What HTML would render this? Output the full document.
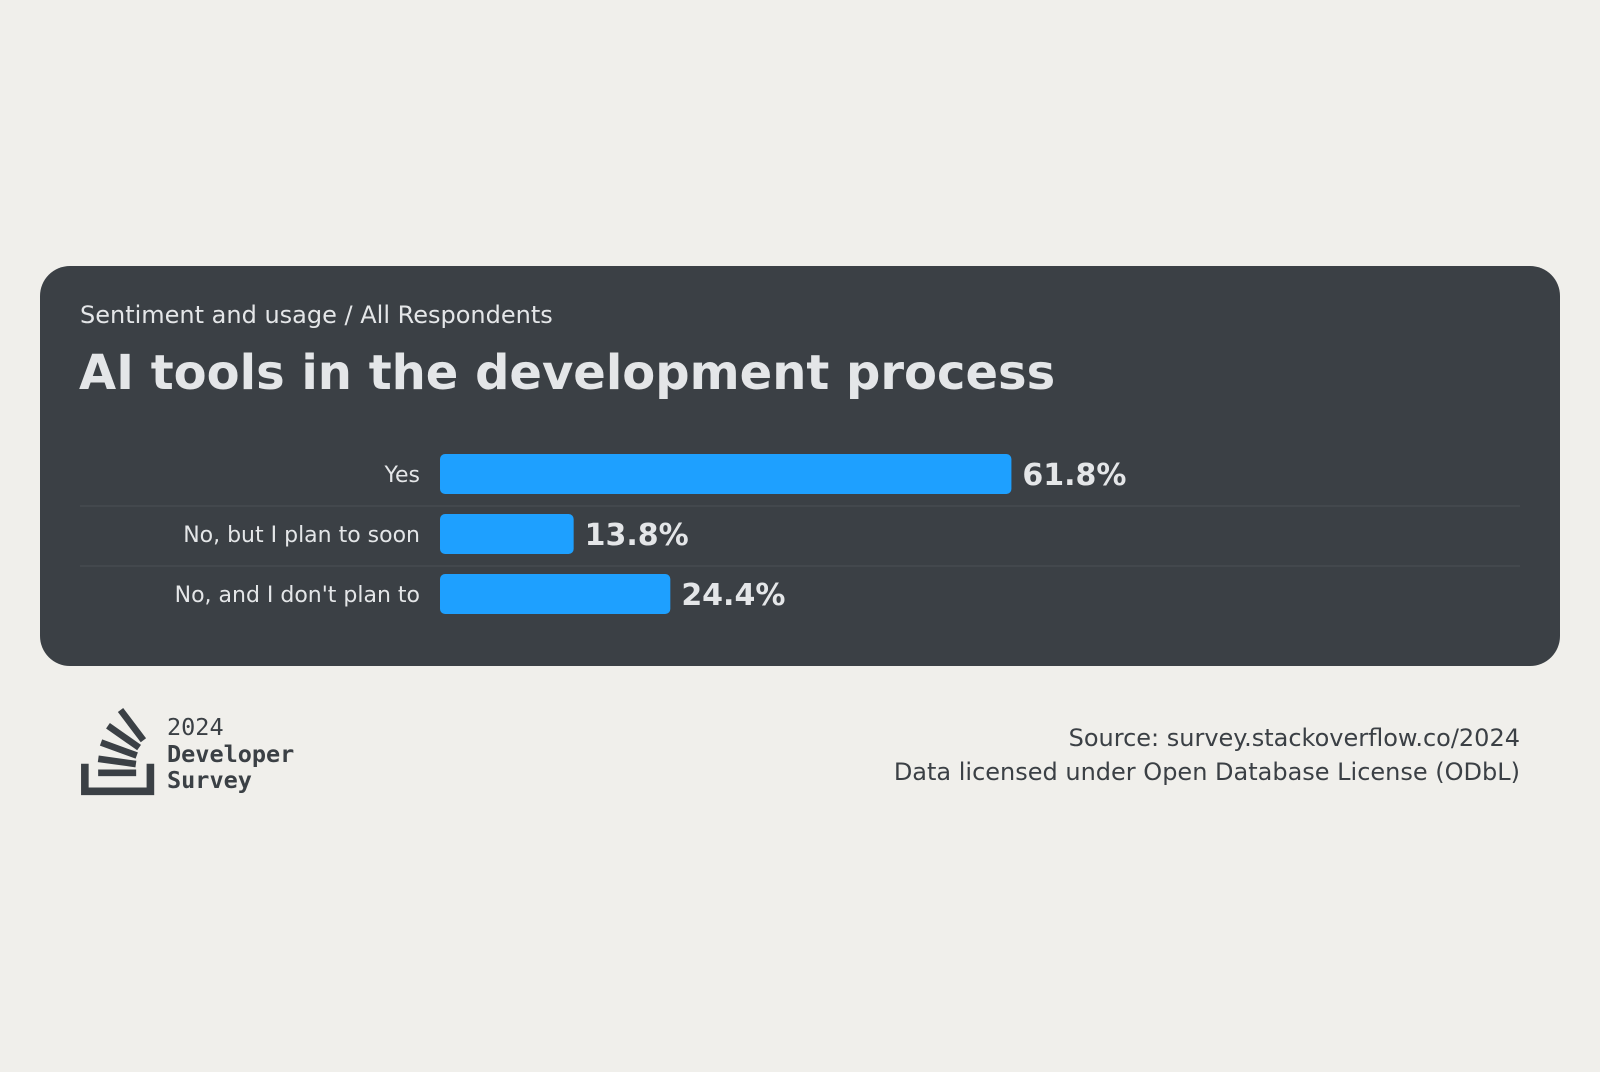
<!DOCTYPE html>
<html><head><meta charset="utf-8"><style>
body{margin:0;width:1600px;height:1072px;background:#f0efeb;font-family:"DejaVu Sans","Liberation Sans",sans-serif;overflow:hidden;position:relative}
.card{position:absolute;left:40px;top:266px;width:1520px;height:400px;background:#3b4045;border-radius:30px}
.sub{position:absolute;left:80px;top:301px;font-size:24px;color:#e4e6e8}
.title{position:absolute;left:79px;top:345px;font-size:48px;font-weight:bold;color:#e4e6e8}
.src{position:absolute;right:80px;top:721px;text-align:right;font-size:24px;color:#3b4045;line-height:34px}
.logo{position:absolute;left:80px;top:703px}
.mono{position:absolute;left:167px;font-family:"DejaVu Sans Mono","Liberation Mono",monospace;font-size:23.5px;color:#3b4045}
</style></head><body>
<div class="card"></div>
<div class="sub">Sentiment and usage / All Respondents</div>
<div class="title">AI tools in the development process</div>
<svg id="chart" width="1600" height="1072" style="position:absolute;left:0;top:0"></svg>
<svg class="logo" width="80" height="95" viewBox="0 0 80 100">
<path d="M3 64 V93 H72 V64" fill="none" stroke="#3b4045" stroke-width="8"/>
<rect x="17" y="70" width="40" height="7" fill="#3b4045"/>
<rect x="17" y="58" width="40" height="7" fill="#3b4045" transform="rotate(8 37 61)"/>
<rect x="19" y="45" width="40" height="7" fill="#3b4045" transform="rotate(20 39 48)"/>
<rect x="24" y="32" width="40" height="7" fill="#3b4045" transform="rotate(35 44 35)"/>
<rect x="33" y="20" width="40" height="7" fill="#3b4045" transform="rotate(53 53 23)"/>
</svg>
<div class="mono" style="top:713px">2024</div>
<div class="mono" style="top:740px;font-weight:bold">Developer</div>
<div class="mono" style="top:766px;font-weight:bold">Survey</div>
<div class="src">Source: survey.stackoverflow.co/2024<br>Data licensed under Open Database License (ODbL)</div>
<script>
const categories = ["Yes", "No, but I plan to soon", "No, and I don't plan to"];
const values = [61.8, 13.8, 24.4];
const valueLabels = ["61.8%", "13.8%", "24.4%"];
const NS = "http://www.w3.org/2000/svg";
const svg = document.getElementById("chart");
const x0 = 440, pxPer = 9.12, minW = 7.8, rowTop = 454, rowStep = 60, barH = 40;
const xScale = v => minW + v * pxPer;
const yScale = i => rowTop + i * rowStep;
function mk(tag, attrs) { const e = document.createElementNS(NS, tag); for (const k in attrs) e.setAttribute(k, attrs[k]); svg.appendChild(e); return e; }
categories.forEach((c, i) => {
  const y = yScale(i);
  if (i > 0) {
    const ln = mk("line", {x1: 80, x2: 1520, y1: y - 8, y2: y - 8, stroke: "#464b50", "stroke-width": 1.5});
    
    
  }
  const lab = mk("text", {x: 420, y: y + barH / 2 + 8, "text-anchor": "end", fill: "#e4e6e8", "font-size": 22});
  lab.textContent = c;
  
  
  const r = mk("rect", {x: x0, y: y, width: xScale(values[i]), height: barH, rx: 5, fill: "#1ea0ff"});
  
  
  const v = mk("text", {x: x0 + xScale(values[i]) + 11, y: y + barH / 2 + 11, fill: "#e4e6e8", "font-size": 30, "font-weight": "bold"});
  v.textContent = valueLabels[i];
  
  
});
</script>
</body></html>
